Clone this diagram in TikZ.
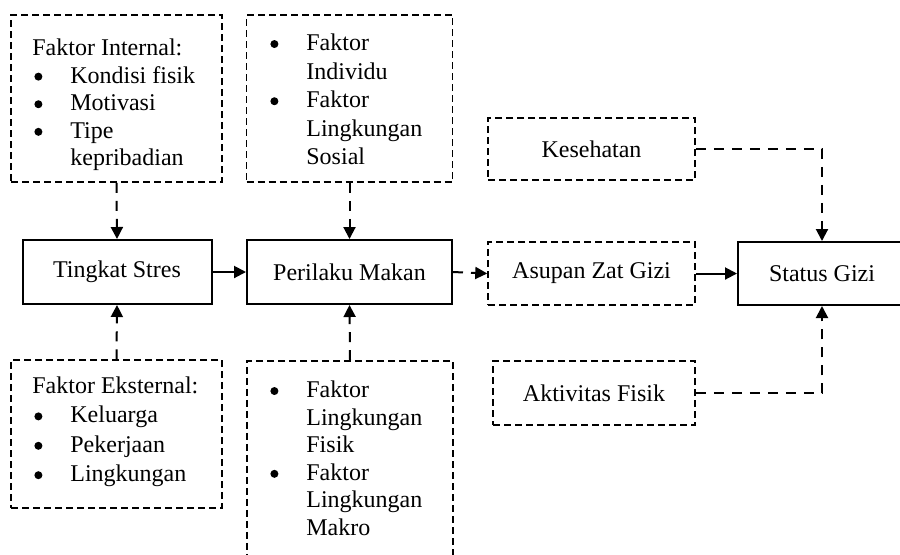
\documentclass[tikz,border=0pt]{standalone}
\usepackage{fontspec}
\setmainfont{Liberation Serif}
\usetikzlibrary{arrows.meta}
\usetikzlibrary{calc}

% daftar berbutir: kolom butir + kolom teks
\newenvironment{butiran}{\begin{tabular}{@{}p{19pt}@{}p{65.5pt}@{}}}{\end{tabular}}
\newcommand{\btr}{\hspace*{1pt}\tikz[baseline=0pt]\fill (0pt,3.2pt) circle (2pt);}

\begin{document}
\begin{tikzpicture}[x=0.5pt,y=-0.5pt,
  font=\fontsize{12}{13.8}\selectfont,
  kotak/.style={draw,line width=1pt,minimum height=32pt,inner sep=0pt},
  putus/.style={draw,line width=0.75pt,dash pattern=on 3.5pt off 2pt,inner sep=0pt},
  isi/.style={anchor=north west,inner sep=0pt},
  panah/.style={line width=1pt,-{Triangle[length=6pt,width=6pt]}},
  panah putus/.style={panah,dash pattern=on 5pt off 4pt}]

  \useasboundingbox (0,0) rectangle (900,554);

  % kolom kiri
  \node[putus,minimum width=105.5pt,minimum height=83.5pt] (internal) at (116.5,98.5) {};
  \node[isi] (internalteks) at (32,35.7)
    {\begin{butiran}
       \multicolumn{2}{@{}l@{}}{Faktor Internal:}\\
       \btr & Kondisi fisik\\
       \btr & Motivasi\\
       \btr & Tipe\\
            & kepribadian
     \end{butiran}};
  \node[kotak,minimum width=94.5pt] (stres) at (117,272) {Tingkat Stres};
  \node[putus,minimum width=105.5pt,minimum height=74pt] (eksternal) at (116.5,434) {};
  \node[isi,font=\fontsize{12}{14.7}\selectfont] (eksternalteks) at (32,372.4)
    {\begin{butiran}
       \multicolumn{2}{@{}l@{}}{Faktor Eksternal:}\\
       \btr & Keluarga\\
       \btr & Pekerjaan\\
       \btr & Lingkungan
     \end{butiran}};

  % kolom tengah
  \node[putus,minimum width=103pt,minimum height=83.5pt] (individu) at (349.5,98.5) {};
  \node[isi,font=\fontsize{12}{14.3}\selectfont] (individuteks) at (268,30)
    {\begin{butiran}
       \btr & Faktor\\
            & Individu\\
       \btr & Faktor\\
            & Lingkungan\\
            & Sosial
     \end{butiran}};
  \node[kotak,minimum width=102.5pt] (perilaku) at (349.5,272) {Perilaku Makan};
  \node[putus,anchor=north,minimum width=103pt,minimum height=110pt] (fisik) at (350,360) {};
  \node[isi] (fisikteks) at (268,377.7)
    {\begin{butiran}
       \btr & Faktor\\
            & Lingkungan\\
            & Fisik\\
       \btr & Faktor\\
            & Lingkungan\\
            & Makro
     \end{butiran}};

  % kolom kanan
  \node[putus,minimum width=103.5pt,minimum height=31pt] (kesehatan) at (591.5,149) {Kesehatan};
  \node[putus,minimum width=103.5pt,minimum height=31.5pt] (asupan) at (591.5,273.5) {Asupan Zat Gizi};
  \node[putus,minimum width=101pt,minimum height=32pt] (aktivitas) at (594,393) {Aktivitas Fisik};
  \node[kotak,minimum width=84pt,minimum height=31.5pt] (status) at (822,273.5) {Status Gizi};

  \draw[panah putus] (internal.south) -- (stres.north);
  \draw[panah putus] (eksternal.north) -- (stres.south);
  \draw[panah putus] (individu.south) -- (perilaku.north);
  \draw[panah putus] (fisik.north) -- (perilaku.south);
  \draw[panah] (stres.east) -- (perilaku.west);
  \draw[panah putus] (perilaku.east) -- (asupan.west);
  \draw[panah] (asupan.east) -- (status.west);
  \draw[panah putus] (kesehatan.east) -| (status.north);
  \draw[panah putus] (aktivitas.east) -| (status.south);
\end{tikzpicture}
\end{document}
